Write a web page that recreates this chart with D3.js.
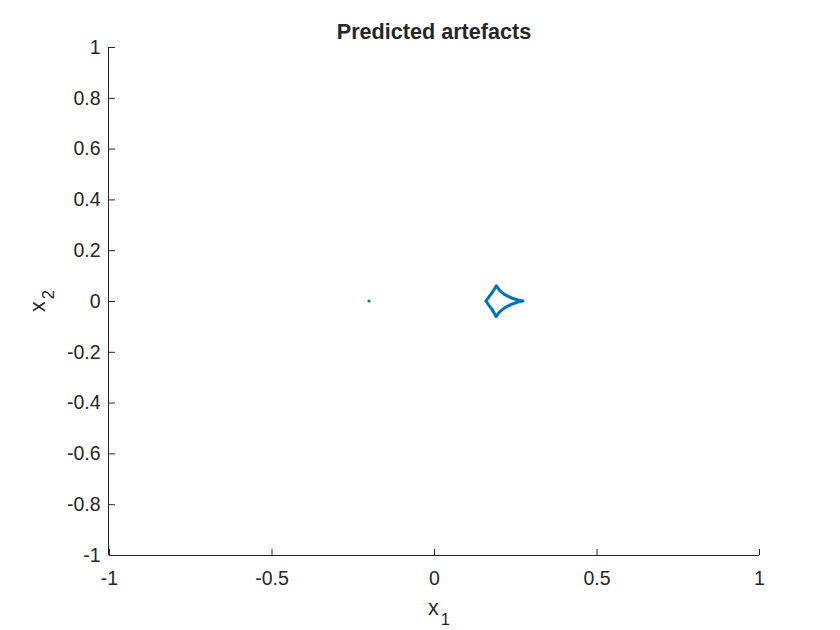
<!DOCTYPE html>
<html>
<head>
<meta charset="utf-8">
<script src="https://cdn.jsdelivr.net/npm/d3@7"></script>
<style>
  body { margin: 0; background: #fff; }
  text { font-family: "Liberation Sans", Arial, sans-serif; fill: #262626; }
</style>
</head>
<body>
<div id="chart"></div>
<script>
// ticks
var xTicks = [-1, -0.5, 0, 0.5, 1];
var yTicks = [-1, -0.8, -0.6, -0.4, -0.2, 0, 0.2, 0.4, 0.6, 0.8, 1];

// predicted artefact outline (x1, x2)
var curveX1 = [0.160, 0.170, 0.179, 0.186, 0.192, 0.203, 0.218, 0.240, 0.258, 0.274,
               0.258, 0.240, 0.218, 0.202, 0.191, 0.185, 0.178, 0.169, 0.160];
var curveX2 = [0.000, 0.018, 0.033, 0.047, 0.060, 0.040, 0.025, 0.011, 0.004, 0.000,
               -0.004, -0.012, -0.026, -0.043, -0.061, -0.047, -0.032, -0.017, 0.000];

// isolated point
var dotX1 = [-0.2];
var dotX2 = [0];

var width  = 840;
var height = 630;
var margin = { top: 47, right: 81, bottom: 75, left: 109 };

var svg = d3.select("#chart").append("svg")
  .attr("width", width)
  .attr("height", height);

var x = d3.scaleLinear().domain([-1, 1]).range([margin.left, width - margin.right]);
var y = d3.scaleLinear().domain([-1, 1]).range([height - margin.bottom, margin.top]);

var tickLen = 6;
var fmt = function (d) { return d3.format("")(d).replace("\u2212", "-"); };

// x axis
var gx = svg.append("g")
  .attr("transform", "translate(0," + y(-1) + ")")
  .call(d3.axisBottom(x).tickValues(xTicks).tickSize(-tickLen).tickPadding(16).tickFormat(fmt));

// y axis
var gy = svg.append("g")
  .attr("transform", "translate(" + x(-1) + ",0)")
  .call(d3.axisLeft(y).tickValues(yTicks).tickSize(-tickLen).tickPadding(8.5).tickFormat(fmt));

[gx, gy].forEach(function (g) {
  g.select(".domain").attr("stroke", "#262626").attr("stroke-width", 1);
  g.selectAll(".tick line").attr("stroke", "#262626").attr("stroke-width", 1);
  g.selectAll(".tick text")
    .style("font-family", "'Liberation Sans', Arial, sans-serif")
    .style("font-size", "19.5px")
    .attr("fill", "#262626");
});
gx.select(".domain").attr("d", "M" + x(-1) + ",0.5H" + x(1));
gy.select(".domain").attr("d", "M-0.5," + y(-1) + "V" + y(1));

// title
svg.append("text")
  .attr("x", (x(-1) + x(1)) / 2)
  .attr("y", 38.5)
  .attr("text-anchor", "middle")
  .style("font-size", "21.6px")
  .style("font-weight", "bold")
  .attr("fill", "#000")
  .text("Predicted artefacts");

// x label
var xl = svg.append("text")
  .attr("x", 428)
  .attr("y", 615)
  .style("font-size", "21.6px");
xl.append("tspan").text("x");
xl.append("tspan").attr("dy", 10).attr("dx", 2).style("font-size", "16.5px").text("1");

// y label
var yl = svg.append("text")
  .attr("transform", "translate(45,312) rotate(-90)")
  .style("font-size", "21.6px");
yl.append("tspan").text("x");
yl.append("tspan").attr("dy", 9).attr("dx", 2).style("font-size", "16.5px").text("2");

// outline
var pts = curveX1.map(function (v, i) { return [v, curveX2[i]]; });
var line = d3.line()
  .x(function (d) { return x(d[0]); })
  .y(function (d) { return y(d[1]); })
  .curve(d3.curveLinear);

svg.append("path")
  .datum(pts)
  .attr("d", line)
  .attr("fill", "none")
  .attr("stroke", "#0072BD")
  .attr("stroke-width", 3)
  .attr("stroke-linejoin", "round")
  .attr("stroke-linecap", "round");

// dot
svg.selectAll("circle.dot")
  .data(dotX1.map(function (v, i) { return [v, dotX2[i]]; }))
  .enter().append("circle")
  .attr("class", "dot")
  .attr("cx", function (d) { return x(d[0]); })
  .attr("cy", function (d) { return y(d[1]); })
  .attr("r", 1.6)
  .attr("fill", "#0072BD");
</script>
</body>
</html>
